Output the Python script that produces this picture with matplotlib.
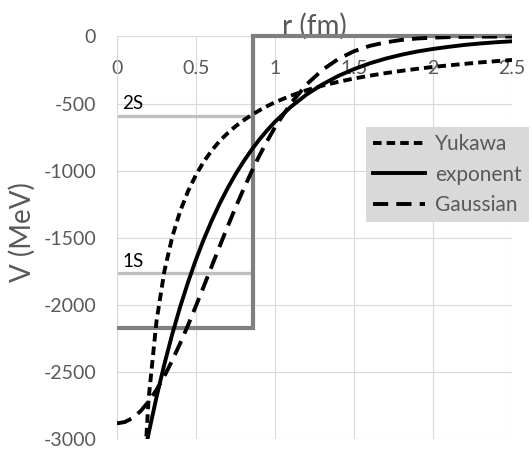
import matplotlib.pyplot as plt

plt.rcParams['font.family'] = ['Lato', 'DejaVu Sans']
plt.rcParams['axes.unicode_minus'] = False

# radii (fm) for the Yukawa and exponent curves
r = [0.15, 0.2, 0.25, 0.3, 0.35, 0.4, 0.45, 0.5, 0.55, 0.6, 0.65, 0.7, 0.75,
     0.8, 0.85, 0.9, 0.95, 1.0, 1.1, 1.2, 1.3, 1.4, 1.5, 1.6, 1.7, 1.8, 1.9,
     2.0, 2.1, 2.2, 2.3, 2.4, 2.5]
yukawa = [-3700, -2700, -2120, -1747, -1491, -1300, -1151, -1030, -931, -848,
          -778, -720, -669, -625, -586, -551, -519, -490, -441, -400, -366,
          -338, -313, -292, -273, -256, -241, -227, -215, -204, -193, -184, -175]
exponent = [-3254, -2956, -2685, -2439, -2215, -2012, -1828, -1660, -1508, -1370,
            -1244, -1130, -1026, -932, -847, -769, -699, -635, -524, -432, -357,
            -294, -243, -200, -165, -136, -112, -93, -77, -63, -52, -43, -36]

# radii (fm) for the Gaussian curve
r_gauss = [0, 0.05, 0.1, 0.15, 0.2, 0.25, 0.3, 0.35, 0.4, 0.45, 0.5, 0.55, 0.6,
           0.65, 0.7, 0.75, 0.8, 0.85, 0.9, 0.95, 1.0, 1.1, 1.2, 1.3, 1.4, 1.5,
           1.6, 1.7, 1.8, 1.9, 2.0, 2.1, 2.2, 2.3, 2.4, 2.5]
gaussian = [-2880, -2870, -2839, -2788, -2718, -2631, -2528, -2411, -2284, -2148,
            -2005, -1858, -1709, -1561, -1416, -1274, -1139, -1011, -890, -779,
            -676, -499, -357, -249, -168, -110, -70, -44, -26, -15, -9, -5, -3,
            -1.4, -0.7, -0.3]

# square well and its bound levels
well_radius = 0.86
well_depth = -2170
r_max = 2.5
level_names = ['1S', '2S']
level_energy = [-1760, -591]

fig = plt.figure(figsize=(5.32, 4.49), dpi=100)
ax = fig.add_axes([0.2199, 0.0212, 0.7425, 0.8976])

for name, e in zip(level_names, level_energy):
    ax.plot([0, well_radius], [e, e], color='#bfbfbf', lw=2.4, solid_capstyle='butt')
    ax.text(0.035, e + 25, name, fontsize=13.5, color='black', va='bottom')

ax.plot([0, well_radius, well_radius, r_max], [well_depth, well_depth, 0, 0],
        color='#7f7f7f', lw=3.0, solid_joinstyle='miter', solid_capstyle='butt',
        clip_on=False, zorder=3)

ax.plot(r, yukawa, color='black', lw=2.8, linestyle=(0, (2.2, 1.3)),
        dash_capstyle='butt', label='Yukawa', zorder=4)
ax.plot(r, exponent, color='black', lw=2.8, label='exponent', zorder=4)
ax.plot(r_gauss, gaussian, color='black', lw=2.8, linestyle=(0, (3.9, 2.1)),
        dash_capstyle='butt', label='Gaussian', zorder=4)

ax.set_xlim(0, r_max)
ax.set_ylim(-3000, 0)
ax.set_xticks([0, 0.5, 1, 1.5, 2, 2.5])
ax.set_xticklabels(['0', '0.5', '1', '1.5', '2', '2.5'])
ax.set_yticks(range(-3000, 1, 500))

for s in ['top', 'right', 'bottom']:
    ax.spines[s].set_visible(False)
ax.spines['left'].set_color('#d9d9d9')
ax.spines['left'].set_linewidth(0.8)
ax.grid(color='#d9d9d9', lw=0.8)
ax.set_axisbelow(True)

ax.xaxis.tick_top()
ax.tick_params(axis='x', length=0, pad=-29, labelsize=14, labelcolor='#595959')
ax.tick_params(axis='y', length=0, pad=15, labelsize=14, labelcolor='#595959')

ax.set_xlabel('r (fm)', fontsize=20, color='#595959')
ax.xaxis.set_label_position('top')
ax.xaxis.set_label_coords(0.5, 1.005)
ax.set_ylabel('V (MeV)', fontsize=20, color='#595959')
ax.yaxis.set_label_coords(-0.205, 0.515)

leg = ax.legend(loc='upper left', bbox_to_anchor=(366 / 532, 1 - 127 / 449),
                bbox_transform=fig.transFigure, fontsize=15, labelcolor='#595959',
                frameon=True, facecolor='#d9d9d9', edgecolor='none', fancybox=False,
                framealpha=1, borderpad=0.35, handlelength=2.5, handletextpad=0.45,
                labelspacing=0.5, borderaxespad=0)
leg.set_zorder(5)

fig.savefig('out.png', dpi=100)
